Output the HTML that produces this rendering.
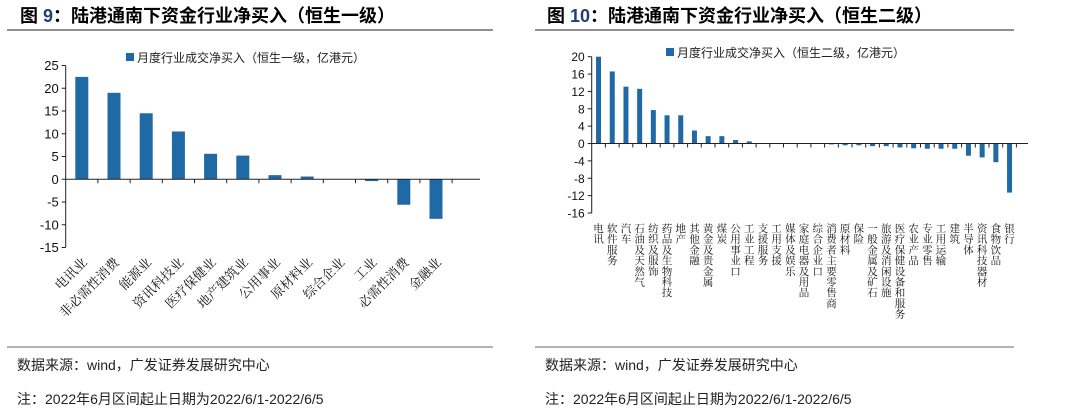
<!DOCTYPE html>
<html><head><meta charset="utf-8">
<style>
body{margin:0;background:#fff;width:1075px;height:412px;overflow:hidden;font-family:"Liberation Sans","Noto Sans CJK SC",sans-serif;}
svg{position:absolute;left:0;top:0}
</style></head>
<body>
<svg width="1075" height="412" xmlns="http://www.w3.org/2000/svg">
<g id="static">
<text x="20" y="22" font-size="18" font-weight="bold" font-family="Liberation Sans,Noto Sans CJK SC,sans-serif">图 <tspan fill="#1f3f7a">9</tspan>：陆港通南下资金行业净买入（恒生一级）</text>
<text x="547" y="22" font-size="18" font-weight="bold" font-family="Liberation Sans,Noto Sans CJK SC,sans-serif">图 <tspan fill="#1f3f7a">10</tspan>：陆港通南下资金行业净买入（恒生二级）</text>
<line x1="7" y1="30" x2="493" y2="30" stroke="#222" stroke-width="1"/>
<line x1="535" y1="30" x2="1014" y2="30" stroke="#222" stroke-width="1"/>
<line x1="7" y1="347" x2="493" y2="347" stroke="#666" stroke-width="1"/>
<line x1="535" y1="347" x2="1014" y2="347" stroke="#666" stroke-width="1"/>
<text x="17" y="370" font-size="14" fill="#222">数据来源：wind，广发证券发展研究中心</text>
<text x="17" y="404" font-size="14" fill="#222">注：2022年6月区间起止日期为2022/6/1-2022/6/5</text>
<text x="545" y="370" font-size="14" fill="#222">数据来源：wind，广发证券发展研究中心</text>
<text x="545" y="404" font-size="14" fill="#222">注：2022年6月区间起止日期为2022/6/1-2022/6/5</text>
<rect x="126" y="53" width="8" height="8" fill="#1f6aa5"/>
<text x="137" y="62" font-size="12" fill="#222">月度行业成交净买入（恒生一级，亿港元）</text>
<rect x="666" y="48" width="8" height="8" fill="#1f6aa5"/>
<text x="677" y="57" font-size="12" fill="#222">月度行业成交净买入（恒生二级，亿港元）</text>
</g>
<g id="left"></g>
<g id="right"></g>
</svg>
<script>
const leftCategories=["电讯业","非必需性消费","能源业","资讯科技业","医疗保健业","地产建筑业","公用事业","原材料业","综合企业","工业","必需性消费","金融业"];
const leftValues=[22.5,19,14.5,10.5,5.6,5.2,0.9,0.6,0,-0.4,-5.6,-8.7];
const leftTicks=[25,20,15,10,5,0,-5,-10,-15];
const rightCategories=["电讯","软件服务","汽车","石油及天然气","纺织及服饰","药品及生物科技","地产","其他金融","黄金及贵金属","煤炭","公用事业口","工业工程","支援服务","工用支援","媒体及娱乐","家庭电器及用品","综合企业口","消费者主要零售商","原材料","保险","一般金属及矿石","旅游及消闲设施","医疗保健设备和服务","农业产品","专业零售","工用运输","建筑","半导体","资讯科技器材","食物饮品","银行"];
const rightValues=[20,16.6,13.1,12.6,7.7,6.5,6.5,3.0,1.7,1.7,0.8,0.5,0,0,0,0,0,-0.2,-0.4,-0.4,-0.6,-0.6,-0.9,-1.1,-1.2,-1.2,-1.2,-2.8,-3.2,-4.3,-11.3];
const rightTicks=[20,16,12,8,4,0,-4,-8,-12,-16];
const NS="http://www.w3.org/2000/svg";
function mk(p,tag,a){const e=document.createElementNS(NS,tag);for(const k in a)e.setAttribute(k,a[k]);p.appendChild(e);return e;}
function chart(g,cats,vals,ticks,o){
  const ymax=ticks[0],ymin=ticks[ticks.length-1];
  const y=v=>o.top+(ymax-v)/(ymax-ymin)*(o.bottom-o.top);
  const band=o.band;
  const x=i=>o.x0+i*band;
  const ax=mk(g,"line",{x1:o.x0,y1:o.top,x2:o.x0,y2:o.bottom,stroke:"#222"});
  
  
  ticks.forEach(t=>{
    const tl=mk(g,"line",{x1:o.x0-4,y1:y(t),x2:o.x0,y2:y(t),stroke:"#222"});
    
    
    const tx=mk(g,"text",{x:o.x0-7,y:y(t)+4.5,"font-size":o.tfs,"text-anchor":"end",fill:"#111"});
    tx.textContent=t;
    
    
  });
  vals.forEach((v,i)=>{
    const cx=x(i)+band/2;
    const r=mk(g,"rect",{x:cx-o.bw/2,y:Math.min(y(v),y(0)),width:o.bw,height:Math.abs(y(v)-y(0)),fill:"#1f6aa5"});
    
    
  });
  const xa=mk(g,"line",{x1:o.x0,y1:y(0),x2:o.xend,y2:y(0),stroke:"#222"});
  
  
  for(let i=1;i<=cats.length;i++){
    const tk=mk(g,"line",{x1:x(i),y1:y(0),x2:x(i),y2:y(0)+4,stroke:"#222"});
    
    
  }
  cats.forEach((c,i)=>{
    const cx=x(i)+band/2;
    if(o.rot){
      const t=mk(g,"text",{x:cx+6,y:o.labelY,"font-size":13,"text-anchor":"end",fill:"#111",transform:`rotate(-45 ${cx+6} ${o.labelY})`,"font-family":"Noto Serif CJK SC,serif"});
      t.textContent=c;
      
      
    } else {
      [...c].forEach((ch,k)=>{
        const t=mk(g,"text",{x:cx,y:o.labelY+k*10.7,"font-size":10.5,"text-anchor":"middle",fill:"#111","font-family":"Noto Serif CJK SC,serif"});
        t.textContent=ch;
        
        
      });
    }
  });
}
chart(document.getElementById("left"),leftCategories,leftValues,leftTicks,{x0:65.7,top:65.5,bottom:247.5,band:32.2,bw:13,xend:480,tfs:13,rot:true,labelY:263});
chart(document.getElementById("right"),rightCategories,rightValues,rightTicks,{x0:591.7,top:56.7,bottom:213,band:13.7,bw:5,xend:1028,tfs:12,rot:false,labelY:232});
</script>
</body></html>
